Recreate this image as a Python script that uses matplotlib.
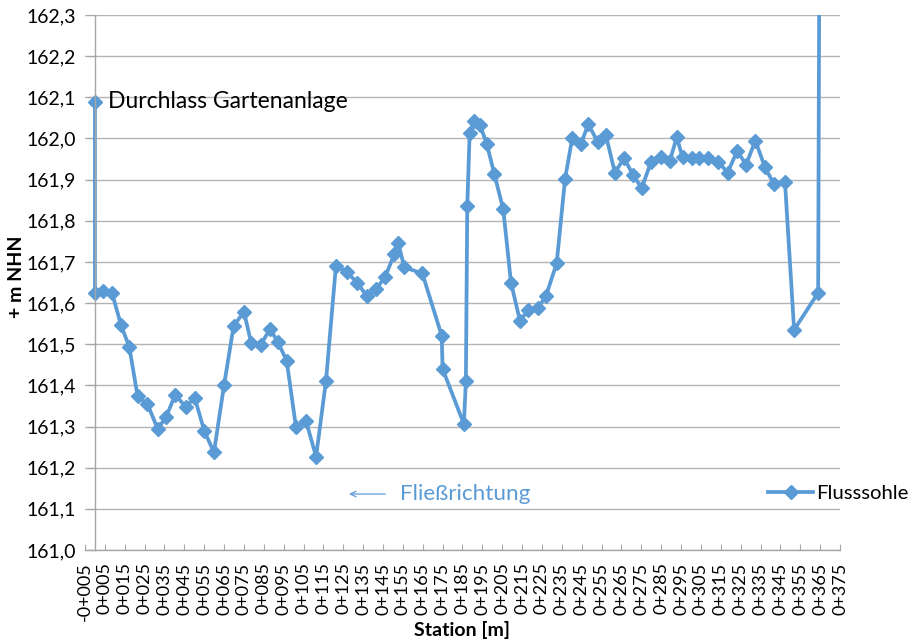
import numpy as np
import matplotlib
matplotlib.use("Agg")
import matplotlib.pyplot as plt

plt.rcParams['font.family'] = ['Lato', 'DejaVu Sans']

# Sohlhöhen entlang der Station (m, m NHN)
station = [0.0, 0.0, 4.2, 8.6, 13.1, 17.3, 21.5, 26.4, 31.6, 35.8,
           40.4, 45.7, 50.2, 55.0, 59.9, 65.0, 69.8, 75.0, 78.7, 83.4,
           88.1, 92.0, 96.5, 101.2, 106.2, 111.3, 116.3, 121.3, 126.7, 132.0,
           136.8, 141.5, 146.1, 150.7, 152.7, 155.7, 164.8, 174.5, 175.0, 185.7,
           186.7, 187.4, 188.6, 190.9, 193.8, 197.2, 201.0, 205.5, 209.4, 213.9,
           218.1, 222.8, 227.0, 232.4, 236.6, 240.2, 244.6, 248.3, 253.0, 257.1,
           261.7, 266.3, 270.9, 275.2, 279.8, 284.7, 289.4, 292.8, 295.8, 300.3,
           304.2, 308.7, 313.7, 318.4, 323.3, 327.7, 332.4, 337.2, 341.8, 347.3,
           351.9, 364.0, 365.0]
sohle = [162.089, 161.625, 161.630, 161.625, 161.547, 161.493, 161.373, 161.355, 161.294, 161.323,
         161.377, 161.348, 161.370, 161.290, 161.237, 161.401, 161.544, 161.579, 161.502, 161.498,
         161.537, 161.506, 161.460, 161.298, 161.314, 161.227, 161.411, 161.691, 161.675, 161.650,
         161.617, 161.634, 161.664, 161.719, 161.745, 161.687, 161.672, 161.521, 161.440, 161.306,
         161.411, 161.836, 162.013, 162.043, 162.033, 161.987, 161.914, 161.828, 161.650, 161.557,
         161.583, 161.587, 161.617, 161.697, 161.901, 162.000, 161.986, 162.035, 161.992, 162.009,
         161.917, 161.952, 161.911, 161.879, 161.942, 161.954, 161.946, 162.003, 161.954, 161.952,
         161.952, 161.952, 161.944, 161.917, 161.970, 161.936, 161.995, 161.930, 161.889, 161.895,
         161.535, 161.625, 163.000]

xticks = np.arange(-5, 376, 10)
yticks = np.round(np.arange(161.0, 162.31, 0.1), 1)


def stat_label(s):
    s = int(s)
    if s < 0:
        return "-0+%03d" % (-s)
    return "%d+%03d" % (s // 1000, s % 1000)


blue = '#5B9BD5'
grey = '#A6A6A6'

fig = plt.figure(figsize=(9.1, 6.42), dpi=100)
ax = fig.add_axes([85/910, 1 - 550/642, 755/910, 535/642])

# y-Achse bei Station 0 (vor dem Setzen der Ticks, sonst gehen die Schriftgrößen verloren)
ax.spines['left'].set_position(('data', 0))
for side in ['top', 'right']:
    ax.spines[side].set_visible(False)
for side in ['left', 'bottom']:
    ax.spines[side].set_color(grey)
    ax.spines[side].set_linewidth(1.0)

ax.plot(station, sohle, color=blue, lw=2.7, marker='D', markersize=7.2,
        label='Flusssohle', clip_on=True)

ax.set_xlim(-5, 375)
ax.set_ylim(161.0, 162.3)
ax.set_xticks(xticks)
ax.set_xticklabels([stat_label(s) for s in xticks], rotation=90, fontsize=13)
ax.set_yticks(yticks)
ax.set_yticklabels([("%.1f" % v).replace('.', ',') for v in yticks], fontsize=14)
ax.grid(axis='y', color='#B4B4B4', lw=1.0)
ax.set_axisbelow(True)

ax.tick_params(axis='x', direction='in', length=4, color=grey, pad=9)
ax.tick_params(axis='y', direction='out', length=6, color=grey, pad=8)

ax.set_xlabel('Station [m]', fontsize=14, fontweight='bold', labelpad=0)
ax.set_ylabel('+ m NHN', fontsize=14, fontweight='bold')
ax.yaxis.set_label_coords(-0.08, 0.51)

ax.text(6.5, 162.089, 'Durchlass Gartenanlage', fontsize=16.5, va='center', ha='left')
ax.annotate('', xy=(126.5, 161.136), xytext=(147.5, 161.136),
            arrowprops=dict(arrowstyle='->', color=blue, lw=0.9))
ax.text(153.5, 161.136, 'Fließrichtung', fontsize=16.2, color=blue,
        va='center', ha='left')

ax.legend(loc='center left', bbox_to_anchor=(0.905, 0.105), frameon=False,
          fontsize=14.6, handlelength=2.2, handletextpad=0.15,
          borderpad=0, borderaxespad=0)

fig.savefig('out.png', dpi=100)
